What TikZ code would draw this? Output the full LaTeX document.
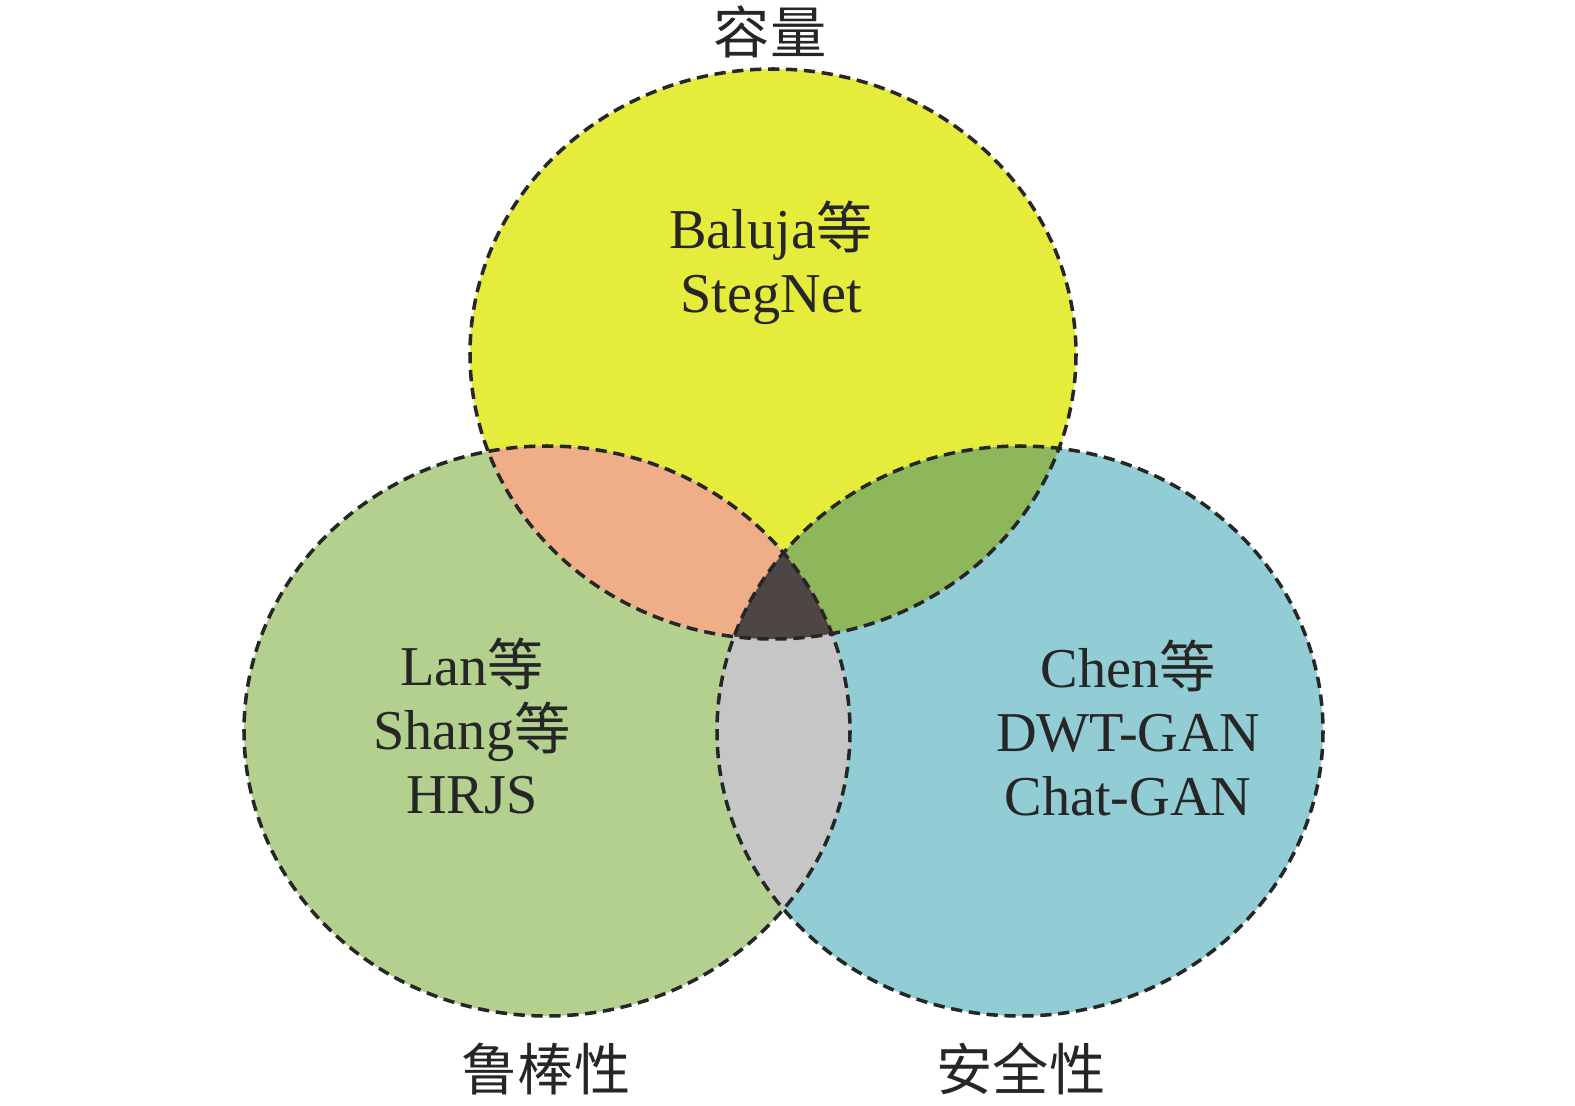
\documentclass[tikz,border=0pt]{standalone}
\usepackage{fontspec}
\setmainfont{Liberation Serif}
\newfontfamily\cjk{Noto Sans CJK SC}
\newcommand{\deng}{{\cjk 等}}

\definecolor{capYellow}{RGB}{229,236,60}
\definecolor{robGreen}{RGB}{179,208,143}
\definecolor{secBlue}{RGB}{146,205,213}
\definecolor{capRob}{RGB}{240,174,136}
\definecolor{capSec}{RGB}{141,183,90}
\definecolor{robSec}{RGB}{198,198,198}
\definecolor{allThree}{RGB}{78,69,69}

\tikzset{
  ring/.style={line width=1pt, dash pattern=on 3.2pt off 1.9pt, color=black!85},
  methods/.style={align=center, font=\fontsize{16}{18.2}\selectfont, text=black!85},
  axis label/.style={font=\fontsize{16}{18}\selectfont\cjk, text=black!85}
}

\begin{document}
\begin{tikzpicture}[x=0.01cm, y=-0.01cm]
    \useasboundingbox (0,0) rectangle (1575,1106);

    \coordinate (T) at (773,354);
    \coordinate (L) at (547,731);
    \coordinate (R) at (1020,731);

    \def\ringT{(T) ellipse [x radius=303, y radius=285]}
    \def\ringL{(L) ellipse [x radius=303, y radius=285]}
    \def\ringR{(R) ellipse [x radius=303, y radius=285]}

    % the three sets
    \fill[capYellow] \ringT;
    \fill[robGreen] \ringL;
    \fill[secBlue] \ringR;

    % pairwise overlaps
    \begin{scope}
        \clip \ringT;
        \fill[capRob] \ringL;
        \fill[capSec] \ringR;
    \end{scope}
    \begin{scope}
        \clip \ringL;
        \fill[robSec] \ringR;
    \end{scope}

    % all three
    \begin{scope}
        \clip \ringT;
        \clip \ringL;
        \fill[allThree] \ringR;
    \end{scope}

    % outlines
    \draw[ring] \ringT;
    \draw[ring] \ringL;
    \draw[ring] \ringR;

    % contents
    \node[methods] (capText) at (771,263) {Baluja\deng\\StegNet};
    \node[methods] (robText) at (472,726) {Lan\deng\\Shang\deng\\HRJS};
    \node[methods] (secText) at (1128,728) {Chen\deng\\DWT-GAN\\Chat-GAN};

    % set names
    \node[axis label] (capName) at (770,32) {容量};
    \node[axis label] (robName) at (546,1069) {鲁棒性};
    \node[axis label] (secName) at (1021,1069) {安全性};
\end{tikzpicture}
\end{document}
